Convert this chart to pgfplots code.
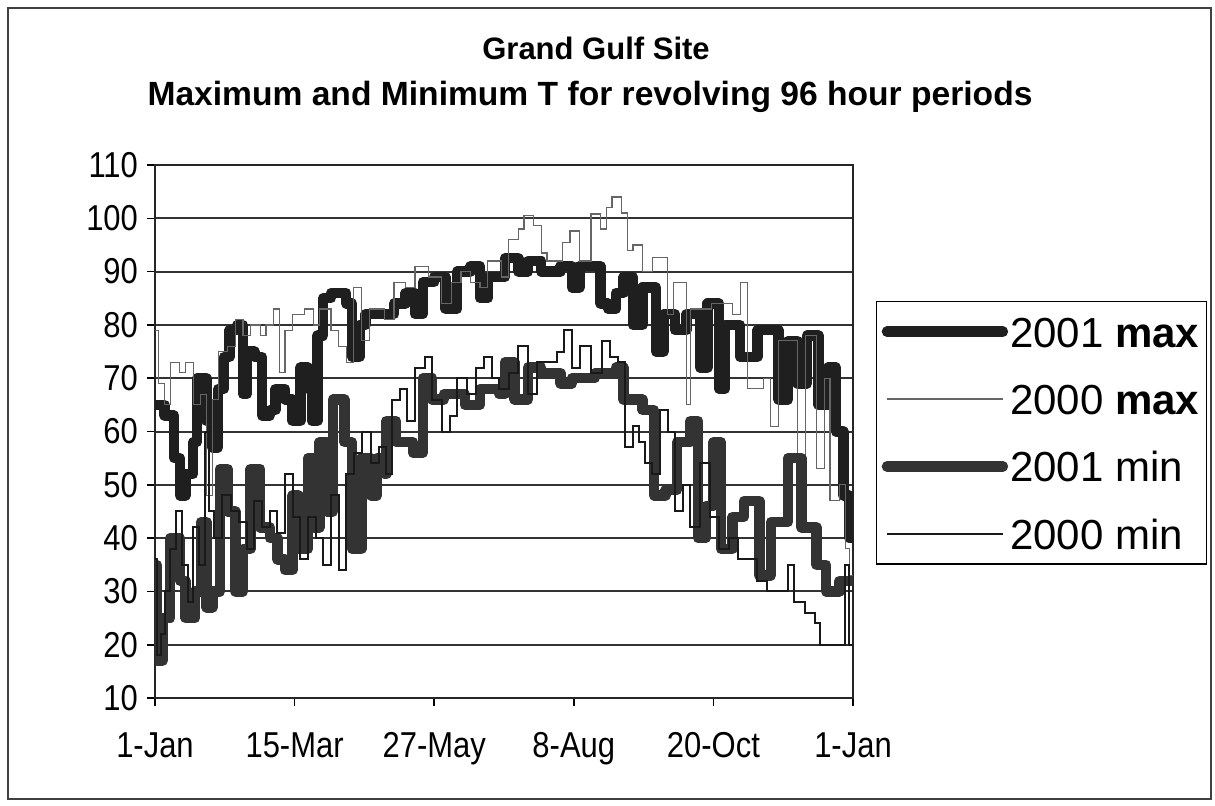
\documentclass[border=0pt]{standalone}
\usepackage{fontspec}
\setmainfont{Liberation Sans}
\newfontfamily\tickfont[FakeStretch=0.86]{Liberation Sans}
\usepackage{pgfplots}
\pgfplotsset{compat=1.18}
\newcommand\ls{\rule[-2pt]{0pt}{19pt}}
\begin{document}
\begin{tikzpicture}[x=1pt,y=1pt]
\useasboundingbox (-77.5,-53.5) rectangle (530,349);
\draw[line width=0.8pt, black!75] (-73.5,345) rectangle (528,-50.5);
\node[font=\bfseries\fontsize{15.5}{18}\selectfont] at (220.5,325) {Grand Gulf Site};
\node[font=\bfseries\fontsize{16.8}{20}\selectfont] at (217.5,300.5) {Maximum and Minimum T for revolving 96 hour periods};
\begin{axis}[
  at={(0,0)}, anchor=south west,
  scale only axis, width=349pt, height=266.5pt,
  xmin=0, xmax=365, ymin=10, ymax=110,
  xtick={0,73,146,219,292,365},
  xticklabels={1-Jan,15-Mar,27-May,8-Aug,20-Oct,1-Jan},
  ytick={10,20,...,110},
  ymajorgrids, major grid style={line width=1pt, black!80},
  axis line style={line width=1pt, black!85},
  tick style={line width=0.8pt, black},
  tick align=outside, major tick length=4pt, tick pos=left,
  tick label style={font=\tickfont\fontsize{18}{20}\selectfont},
  xticklabel style={yshift=-9pt, text height=13pt, text depth=3.5pt},
  yticklabel style={xshift=-1pt},
  /pgf/number format/assume math mode=true,
  legend style={at={(1.033,0.745)}, anchor=north west, draw=black, line width=0.7pt, fill=white,
    font=\fontsize{21}{24}\selectfont, inner xsep=2.5pt, inner ysep=4.75pt, row sep=13.2pt,
    nodes={inner sep=1pt}, cells={anchor=west}},
  legend image code/.code={\path (0pt,0pt) -- (58pt,0pt); \draw[#1] (7.5pt,0pt) -- (55.5pt,0pt);},
]
\addplot[const plot, line width=5.2pt, black!88, line join=round, line cap=round] coordinates {
(0,65)(5,63)(10,55)(13,48)(16,52)(20,58)(22,70)(27,62)(30,57)(33,68)(36,74)(39,79)(43,80)(46,67)(48,75)(52,74)(56,63)
(60,64)(63,68)(68,66)(72,62)(76,72)(80,68)(82,62)(85,78)(88,85)(92,86)(100,84)(103,74)(107,80)(110,82)
(125,84)(131,86)(136,82)(140,88)(146,89)(152,83)(158,90)(165,91)(170,85)(174,89)(183,92.5)(190,90)(195,92)
(202,90)(212,91)(218,87)(222,91)(233,84)(237,83)(241,86)(245,89)(250,80)(255,87)(262,75)(266,82)(272,79)
(278,82)(285,72)(289,84)(295,68)(298,80)(306,74)(315,79)(326,66)(331,77)(336,69)(341,78)(347,65)(352,72)
(356,60)(360,48)(363,40)(365,40)};
\addlegendentry{\ls 2001 \textbf{max}}
\addplot[const plot, line width=0.6pt, black!60] coordinates {
(0,79)(2,69)(5,65)(8,73)(13,71)(16,73)(20,65)(24,67)(27,48)(30,66)(33,75)(38,76)(42,81)(46,78)(50,80)(55,78)
(58,80)(62,83)(65,71)(68,79)(72,82)(78,83)(83,80)(86,83)(92,79)(96,76)(100,73)(104,87)(108,77)(112,83)
(120,81)(125,88)(131,87)(136,91)(143,89)(150,84)(155,88)(160,90)(165,88)(170,87)(174,92)(181,89)(185,96)
(190,98)(193,100.5)(198,98.6)(202,93.5)(205,92)(213,95.4)(217,97.6)(222,92)(228,100.8)(233,98)(236,102)
(239,104)(244,101)(247,94)(250,95)(255,90)(260,92.6)(268,82)(271,88)(278,65)(280,83)(291,84)(302,82)
(306,88)(310,68)(318,70)(322,61)(326,77)(336,55)(340,78)(346,53)(350,70)(353,47)(358,50)(361,38)(363,33)(365,33)};
\addlegendentry{\ls 2000 \textbf{max}}
\addplot[const plot, line width=5.2pt, black!80, line join=round, line cap=round] coordinates {
(0,35)(1,17)(4,25)(8,40)(13,32)(16,25)(21,30)(24,43)(27,27)(30,30)(34,53)(38,45)(42,30)(46,38)(50,53)(55,42)
(60,40)(64,36)(68,34)(72,48)(75,38)(80,55)(83,42)(86,58)(90,45)(93,66)(99,58)(103,38)(108,55)(113,48)(116,55)
(120,52)(121,62)(126,58)(135,56)(140,70)(145,66)(151,67)(162,65)(170,68)(180,67)(183,73)(188,66)(195,72)
(202,71)(212,69)(218,70)(230,71)(241,72)(245,66)(255,64)(261,48)(267,49)(273,58)(280,62)(284,40)(288,46)
(292,58)(296,38)(302,44)(308,47)(316,33)(322,43)(331,55)(338,42)(346,35)(351,30)(358,32)(365,32)};
\addlegendentry{\ls 2001 min}
\addplot[const plot, line width=1pt, black!90] coordinates {
(0,36)(1,18)(3,22)(5,30)(8,38)(11,45)(14,35)(17,28)(20,42)(23,35)(26,60)(28,45)(31,40)(35,48)(40,45)(44,43)
(48,38)(52,47)(56,42)(60,45)(64,41)(68,52)(72,44)(76,36)(80,44)(84,40)(88,35)(92,48)(96,34)(100,52)(104,56)
(108,60)(113,54)(117,57)(121,52)(124,66)(128,68)(132,62)(136,72)(141,74)(145,66)(150,60)(154,63)(158,70)
(163,67)(168,72)(172,74)(176,70)(180,68)(185,71)(190,76)(195,67)(200,73)(205,73)(210,75)(214,79)(218,72)
(222,76)(228,71)(234,77)(238,74)(242,73)(246,57)(250,61)(253,58)(256,54)(260,52)(264,64)(268,60)(272,45)
(276,50)(280,42)(285,54)(290,44)(295,38)(300,40)(305,36)(310,36)(315,32)(320,30)(328,30)(331,35)(334,28)
(340,26)(345,24)(348,20)(355,20)(358,20)(361,35)(363,20)(365,20)};
\addlegendentry{\ls 2000 min}
\end{axis}
\end{tikzpicture}
\end{document}
